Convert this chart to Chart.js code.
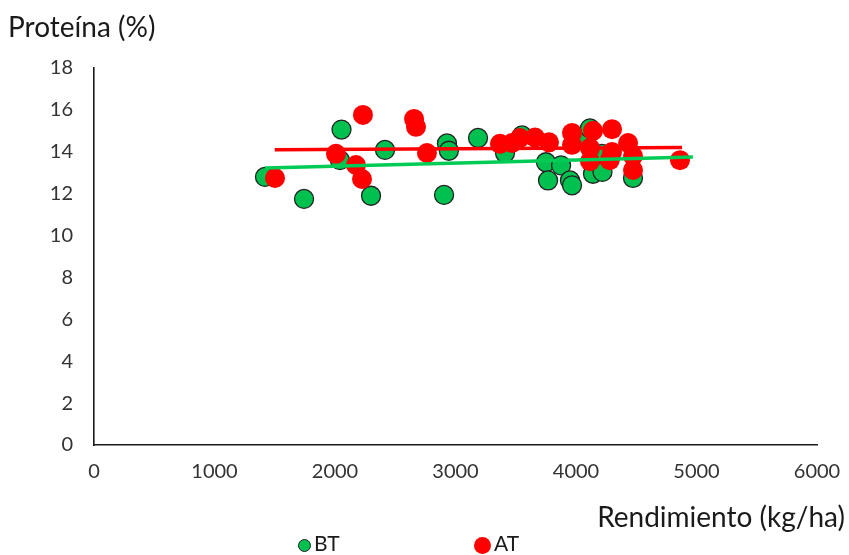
<!DOCTYPE html>
<html>
<head>
<meta charset="utf-8">
<script src="https://cdn.jsdelivr.net/npm/chart.js@4"></script>
<style>
  html, body { margin: 0; padding: 0; background: #fff; }
  #wrap { position: relative; width: 849px; height: 555px; font-family: Lato, "Open Sans", sans-serif; color: #1a1a1a; }
  canvas { position: absolute; left: 0; top: 0; }
  .t { position: absolute; white-space: nowrap; font-size: 28px; line-height: 1; }
  .lg { position: absolute; top: 533px; font-size: 21px; line-height: 20px; white-space: nowrap; }
  .dot { display: inline-block; border-radius: 50%; vertical-align: middle; margin-right: 3px; }
</style>
</head>
<body>
<div id="wrap">
  <canvas id="c" width="849" height="555"></canvas>
  <div class="t" id="ytitle" style="left:8px; top:12px;">Proteína (%)</div>
  <div class="t" id="xtitle" style="right:4px; top:502px;">Rendimiento (kg/ha)</div>
  <div class="lg" style="left:298px;"><span class="dot" style="width:11px;height:11px;background:#00C150;border:1.3px solid #222;"></span>BT</div>
  <div class="lg" style="left:474px;"><span class="dot" style="width:17px;height:17px;background:#FF0000;"></span>AT</div>
</div>
<script>
// Series names
const seriesNames = ["BT", "AT"];

// BT (green) points: [Rendimiento kg/ha, Proteína %]
const btX = [1419, 1743, 2054, 2041, 2299, 2415, 2905, 2929, 2945, 3187, 3411, 3552, 3751, 3876, 3768, 3950, 3967, 4058, 4116, 4141, 4220, 4216, 4473];
const btY = [12.8, 11.75, 15.06, 13.6, 11.9, 14.09, 11.94, 14.4, 14.05, 14.66, 13.94, 14.78, 13.5, 13.35, 12.63, 12.63, 12.4, 14.55, 15.12, 12.95, 13.04, 13.9, 12.75];

// AT (red) points
const atX = [1502, 2008, 2232, 2174, 2224, 2656, 2672, 2763, 3369, 3469, 3535, 3660, 3776, 3967, 3967, 4141, 4299, 4116, 4116, 4299, 4280, 4432, 4473, 4473, 4863];
const atY = [12.75, 13.9, 15.76, 13.37, 12.7, 15.57, 15.19, 13.94, 14.38, 14.42, 14.66, 14.68, 14.45, 14.9, 14.33, 15.0, 15.08, 14.18, 13.55, 13.99, 13.6, 14.42, 13.8, 13.13, 13.6];

// Trend line endpoints
const btTrendX = [1419, 4970];
const btTrendY = [13.23, 13.75];
const atTrendX = [1500, 4880];
const atTrendY = [14.1, 14.2];

// Axis ticks
const xTicks = [0, 1000, 2000, 3000, 4000, 5000, 6000];
const yTicks = [0, 2, 4, 6, 8, 10, 12, 14, 16, 18];

const pts = (xs, ys) => xs.map((x, i) => ({ x: x, y: ys[i] }));

new Chart(document.getElementById('c'), {
  type: 'scatter',
  data: {
    datasets: [
      { label: seriesNames[0], data: pts(btX, btY), order: 4,
        backgroundColor: '#00C150', borderColor: '#222', borderWidth: 1.3,
        pointRadius: 9.5, pointHoverRadius: 9.5 },
      { label: seriesNames[1], data: pts(atX, atY), order: 3,
        backgroundColor: '#FF0000', borderColor: '#FF0000', borderWidth: 0,
        pointRadius: 10, pointHoverRadius: 10 },
      { label: seriesNames[0] + ' trend', type: 'line', data: pts(btTrendX, btTrendY), order: 1,
        borderColor: '#00CC55', borderWidth: 3.5, pointRadius: 0, showLine: true, fill: false },
      { label: seriesNames[1] + ' trend', type: 'line', data: pts(atTrendX, atTrendY), order: 2,
        borderColor: '#FF0000', borderWidth: 3.5, pointRadius: 0, showLine: true, fill: false }
    ]
  },
  options: {
    responsive: false,
    animation: false,
    events: [],
    layout: { padding: { left: 0, right: 32, top: 68, bottom: 0 } },
    plugins: { legend: { display: false }, tooltip: { enabled: false } },
    scales: {
      x: {
        type: 'linear', min: 0, max: 6000,
        afterBuildTicks: s => { s.ticks = xTicks.map(v => ({ value: v })); },
        afterFit: s => { s.height = 110; s.paddingLeft = 0; s.paddingRight = 0; },
        grid: { display: false, drawTicks: false },
        border: { display: true, color: '#1a1a1a', width: 1.6 },
        ticks: { padding: 15, color: '#333', font: { family: 'Lato', size: 20 },
                 callback: v => String(v) }
      },
      y: {
        type: 'linear', min: 0, max: 18,
        afterBuildTicks: s => { s.ticks = yTicks.map(v => ({ value: v })); },
        afterFit: s => { s.width = 94; s.paddingTop = 0; s.paddingBottom = 0; },
        grid: { display: false, drawTicks: false },
        border: { display: true, color: '#1a1a1a', width: 1.6 },
        ticks: { padding: 21, color: '#333', font: { family: 'Lato', size: 20 },
                 callback: v => String(v) }
      }
    }
  }
});
</script>
</body>
</html>
